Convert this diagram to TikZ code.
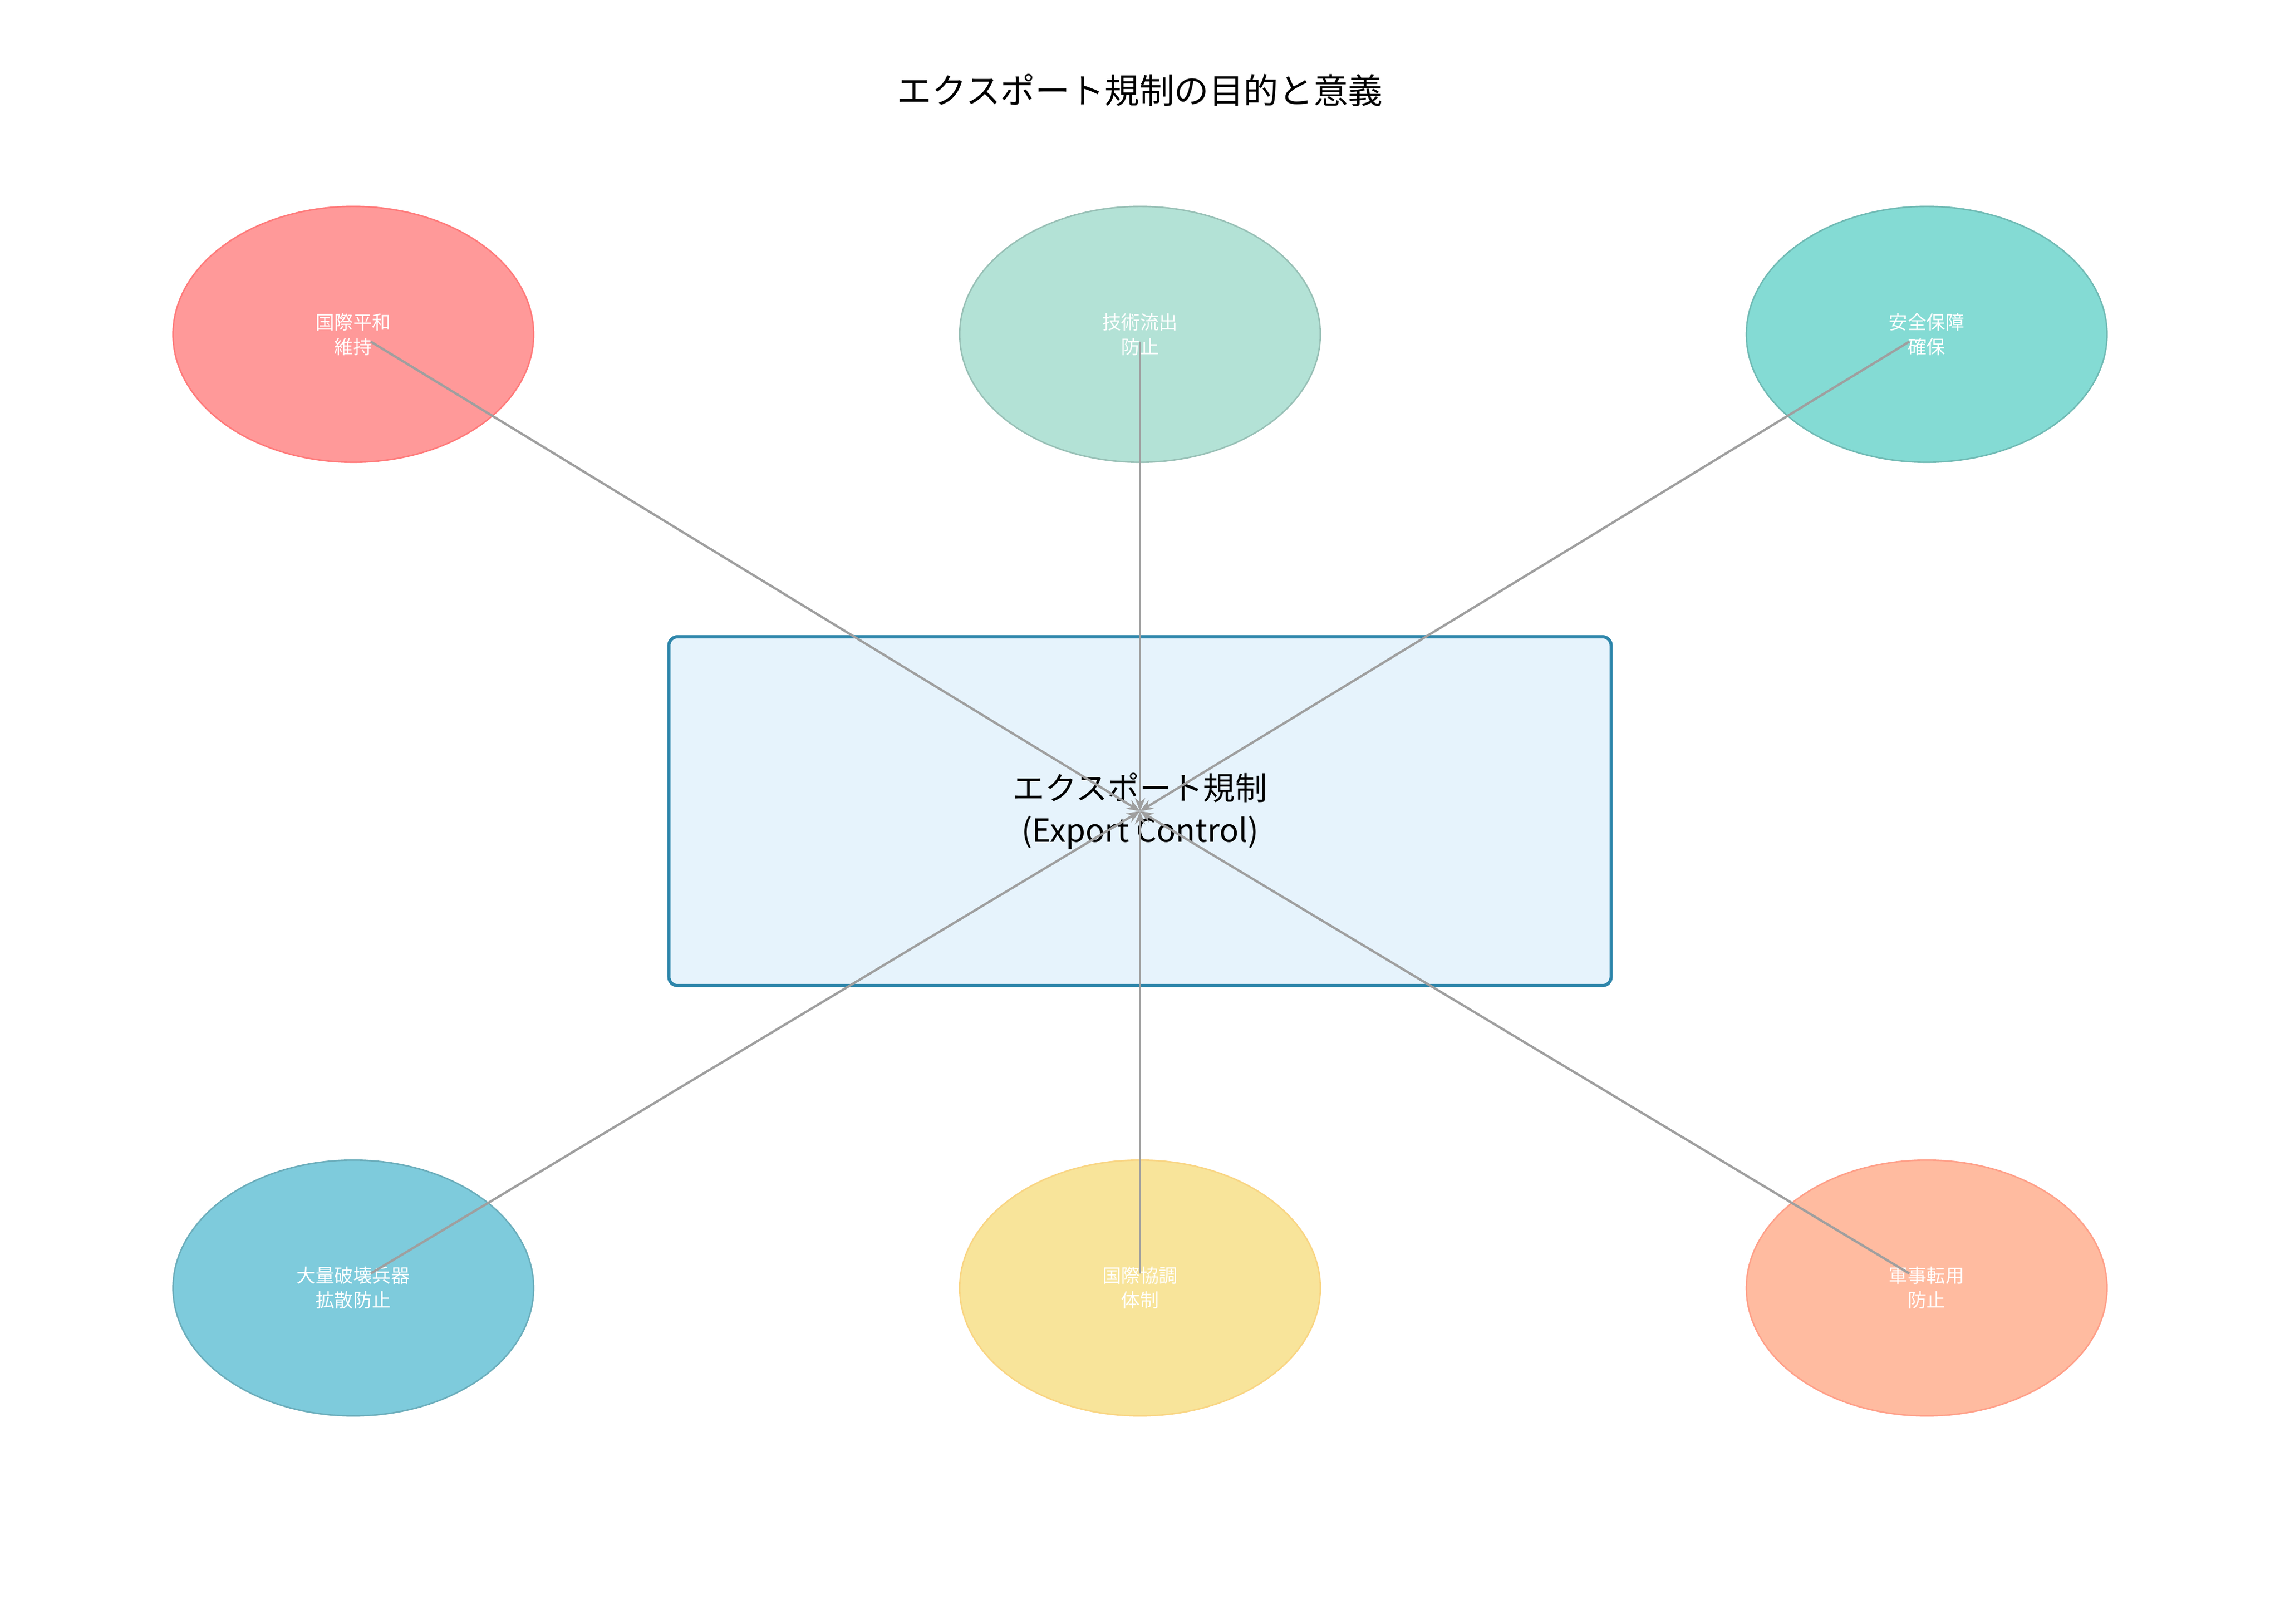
\documentclass[tikz,border=0pt]{standalone}
\usepackage{fontspec}
\setmainfont{Noto Sans CJK JP}
\usetikzlibrary{shapes.geometric,arrows.meta}
\definecolor{cred}{HTML}{FF9999}
\definecolor{cmint}{HTML}{B3E2D6}
\definecolor{cteal}{HTML}{84DBD4}
\definecolor{cblue}{HTML}{7ECBDC}
\definecolor{cyel}{HTML}{F8E49A}
\definecolor{csal}{HTML}{FFBBA0}
\definecolor{boxfill}{HTML}{E6F3FC}
\definecolor{boxline}{HTML}{2E86AB}
\tikzset{goal/.style={ellipse,minimum width=248bp,minimum height=176bp,line width=1bp,text=white,font=\fontsize{13}{17}\selectfont,align=center,inner sep=0pt},
  link/.style={draw=gray!75,line width=1.6bp,-{Stealth[length=9bp,width=7bp]}}}
\begin{document}
\begin{tikzpicture}[x=1bp,y=-1bp]
\useasboundingbox (0,0) rectangle (1568,1117);
\node (title) at (784,62) {\fontsize{24}{28}\selectfont エクスポート規制の目的と意義};
\node[draw=boxline,fill=boxfill,line width=2.2bp,rounded corners=6bp,minimum width=648bp,minimum height=240bp,align=center,font=\fontsize{22}{29}\selectfont] (ctrl) at (784,558) {エクスポート規制\\(Export Control)};
\node[goal,fill=cred,draw=cred!80!red] (peace) at (243,230) {国際平和\\維持};
\node[goal,fill=cmint,draw=cmint!85!black] (tech) at (784,230) {技術流出\\防止};
\node[goal,fill=cteal,draw=cteal!85!black] (secu) at (1325,230) {安全保障\\確保};
\node[goal,fill=cblue,draw=cblue!85!black] (wmd) at (243,886) {大量破壊兵器\\拡散防止};
\node[goal,fill=cyel,draw=cyel!85!orange] (coop) at (784,886) {国際協調\\体制};
\node[goal,fill=csal,draw=csal!85!red] (mil) at (1325,886) {軍事転用\\防止};
\coordinate (hub) at (784,558);
\foreach \g/\dx/\dy in {peace/12/5,tech/0/5,secu/-12/5,wmd/12/-10,coop/0/-10,mil/-12/-10}
  \draw[link] ([shift={(\dx,\dy)}]\g.center) -- (hub);
\end{tikzpicture}
\end{document}
